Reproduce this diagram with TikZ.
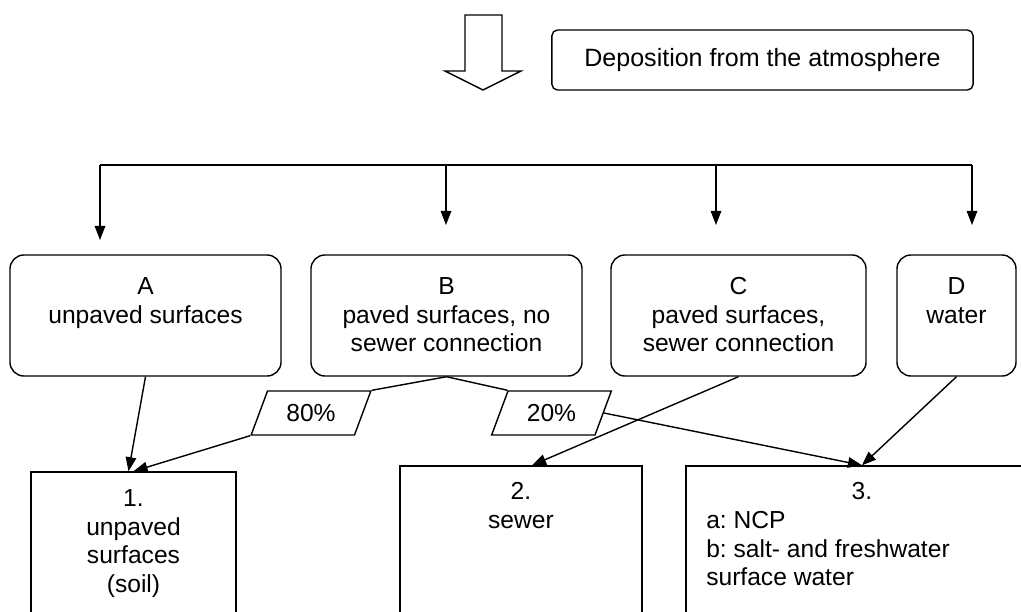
\documentclass[tikz,border=0pt]{standalone}
\usepackage{fontspec}
\setmainfont{Liberation Sans}
\usetikzlibrary{shapes.geometric,arrows.meta,positioning,calc}

\begin{document}
\frenchspacing
\begin{tikzpicture}[x=0.025cm, y=-0.025cm,
    every node/.style={font=\fontsize{17.5}{20.3}\selectfont},
    srcbox/.style={draw, line width=1pt, rounded corners=0.35cm, minimum height=3.025cm, inner sep=0pt},
    sinkbox/.style={draw, line width=1pt, minimum height=5cm, inner sep=0pt},
    share/.style={draw, line width=1pt, trapezium, trapezium left angle=62, trapezium right angle=118,
        trapezium stretches=true, minimum width=3cm, minimum height=1.1cm, inner sep=0pt},
    lbl/.style={inner sep=0pt, align=center},
    link/.style={line width=1pt},
    flow/.style={link, -{Triangle[length=10pt,width=7.5pt]}}]

    \path[use as bounding box, clip] (0,0) rectangle (1021,612);

    % deposition from the atmosphere
    \draw[line width=1pt] (465,15) -- (502,15) -- (502,71) -- (521,71) -- (483,90) -- (445,71) -- (465,71) -- cycle;
    \node[draw, line width=1pt, rounded corners=0.14cm, minimum width=10.525cm, minimum height=1.5cm,
        font=\fontsize{17.8}{20.3}\selectfont] (dep) at (762.5,60) {Deposition from the atmosphere};

    % distribution line
    \coordinate (ta) at (100,165);
    \coordinate (tb) at (446,165);
    \coordinate (tc) at (716,165);
    \coordinate (td) at (972,165);
    \draw[link] (ta) -- (td);
    \draw[flow] (ta) -- ++(0,75);
    \draw[flow] (tb) -- ++(0,60);
    \draw[flow] (tc) -- ++(0,60);
    \draw[flow] (td) -- ++(0,60);

    % A - unpaved surfaces
    \node[srcbox, minimum width=6.775cm] (A) at (145.5,315.5) {};
    \node[lbl, below=0.575cm of A.north] (A text) {A\\unpaved surfaces};

    % B - paved, no sewer
    \node[srcbox, minimum width=6.775cm] (B) at (446.5,315.5) {};
    \node[lbl, below=0.575cm of B.north] (B text) {B\\paved surfaces, no\\sewer connection};

    % C - paved, sewer
    \node[srcbox, minimum width=6.375cm] (C) at (738.5,315.5) {};
    \node[lbl, below=0.575cm of C.north] (C text) {C\\paved surfaces,\\sewer connection};

    % D - water
    \node[srcbox, minimum width=2.975cm] (D) at (956.5,315.5) {};
    \node[lbl, below=0.575cm of D.north] (D text) {D\\water};

    % shares of B
    \node[share] (p80) at (311,413) {80\%};
    \node[share] (p20) at (551.5,413) {20\%};

    % 1 - soil
    \node[sinkbox, minimum width=5.125cm] (one) at (133.5,572) {};
    \node[lbl, below=0.45cm of one.north] (one text) {1.\\unpaved\\surfaces\\(soil)};

    % 2 - sewer
    \node[sinkbox, minimum width=6.05cm] (two) at (521,566) {};
    \node[lbl, below=0.42cm of two.north] (two text) {2.\\sewer};

    % 3 - surface water
    \node[sinkbox, minimum width=8.8cm] (three) at (862,566) {};
    \node[lbl, below=0.42cm of three.north] (three num) {3.};
    \node[lbl, align=left, anchor=north west] (three list) at (706,511) {a: NCP\\b: salt- and freshwater\\surface water};

    % flows
    \draw[flow] (A.south) -- ($(one.north)+(-5,0)$);
    \draw[link] (B.south) -- (p80.top right corner);
    \draw[flow] (p80.bottom left corner) -- (one.north);
    \draw[link] (B.south) -- (p20.top left corner);
    \draw[flow] (p20.right side) -- (three.north);
    \draw[flow] (C.south) -- ($(two.north)+(11,0)$);
    \draw[flow] (D.south) -- (three.north);
\end{tikzpicture}
\end{document}
